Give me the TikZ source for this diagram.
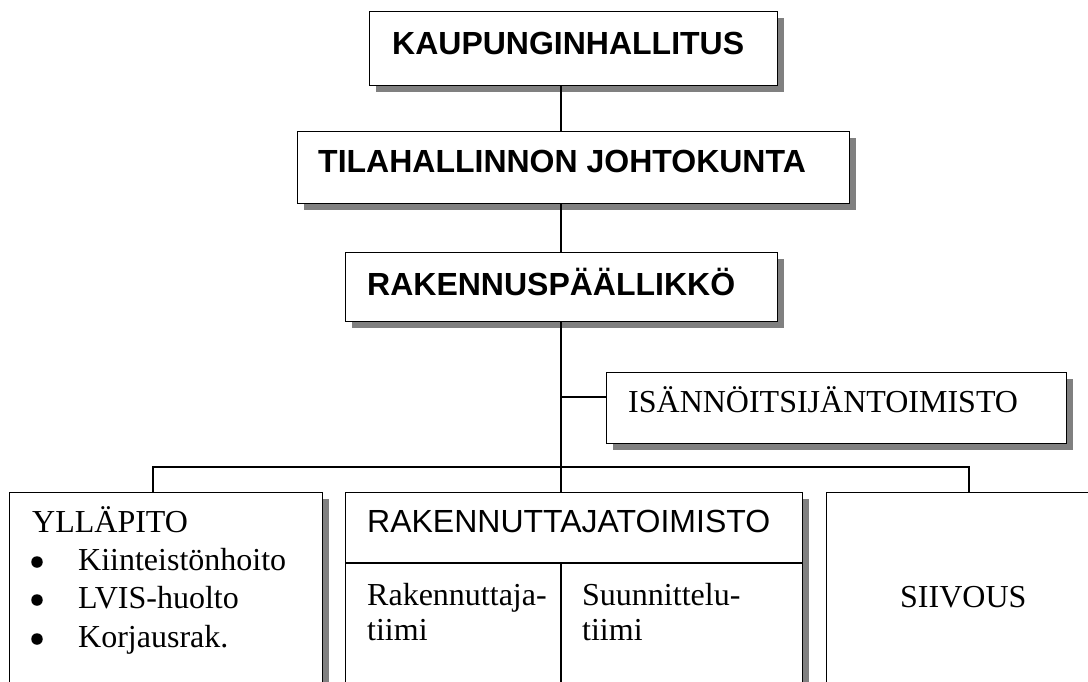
\documentclass[tikz,border=0pt]{standalone}
\usepackage{fontspec}
\setmainfont{Liberation Serif}
\newfontfamily\arialf{Liberation Sans}
\usetikzlibrary{shadows}
\begin{document}
\begin{tikzpicture}[x=1pt,y=-1pt,
  box/.style={draw, line width=1.3pt, fill=white, rectangle, inner sep=0pt, anchor=north west,
    drop shadow={shadow xshift=6pt, shadow yshift=-6pt, fill=black!50, opacity=1}},
  txt/.style={inner sep=0pt, anchor=base west, font=\fontsize{32}{38}\selectfont},
  btxt/.style={txt, font=\arialf\bfseries\fontsize{32}{38}\selectfont},
  stxt/.style={txt, font=\arialf\fontsize{32}{38}\selectfont},
  bul/.style={circle, fill=black, inner sep=0pt, minimum size=11.5pt},
  link/.style={line width=1.3pt}]
\useasboundingbox (0,0) rectangle (1088,682);
\clip (0,0) rectangle (1088,682);
% boxes
\node[box, minimum width=408pt, minimum height=74pt] (kaup) at (369,11) {};
\node[box, minimum width=552pt, minimum height=72pt] (tila) at (297,131) {};
\node[box, minimum width=432pt, minimum height=69pt] (rak) at (345,252) {};
\node[box, minimum width=460pt, minimum height=71pt] (isan) at (606,372) {};
\node[box, minimum width=313pt, minimum height=240pt] (yll) at (9,492) {};
\node[box, minimum width=457pt, minimum height=240pt] (rto) at (345,492) {};
\node[box, minimum width=290pt, minimum height=240pt] (sii) at (826,492) {};
% helper coordinates
\coordinate (spine) at (561,0);
\coordinate (isanjoin) at (561,397);
\coordinate (busL) at (153,467);
\coordinate (busR) at (969,467);
\coordinate (rsplit) at (561,563);
% connectors
\draw[link] (kaup.south -| spine) -- (tila.north -| spine);
\draw[link] (tila.south -| spine) -- (rak.north -| spine);
\draw[link] (rak.south -| spine) -- (rto.north -| spine);
\draw[link] (isanjoin) -- (isanjoin -| isan.west);
\draw[link] (busL |- yll.north) -- (busL) -- (busR) -- (busR |- sii.north);
% divisions inside RAKENNUTTAJATOIMISTO
\draw[link] (rto.west |- rsplit) -- (rto.east |- rsplit);
\draw[link] (rsplit) -- (rsplit |- rto.south);
% texts
\node[btxt] (tkaup) at (392,55) {KAUPUNGINHALLITUS};
\node[btxt] (ttila) at (318,173) {TILAHALLINNON JOHTOKUNTA};
\node[btxt] (trak) at (367,295) {RAKENNUSPÄÄLLIKKÖ};
\node[txt] (tisan) at (628,412) {ISÄNNÖITSIJÄNTOIMISTO};
\node[txt] (tyll) at (32,532) {YLLÄPITO};
\node[bul] (b1) at (37,562) {};
\node[bul] (b2) at (37,600) {};
\node[bul] (b3) at (37,639) {};
\node[txt] (i1) at (78,570) {Kiinteistönhoito};
\node[txt] (i2) at (78,608) {LVIS-huolto};
\node[txt] (i3) at (78,647) {Korjausrak.};
\node[stxt] (trto) at (367,532) {RAKENNUTTAJATOIMISTO};
\node[txt] (r1) at (367,605) {Rakennuttaja-};
\node[txt] (r2) at (367,640) {tiimi};
\node[txt] (s1) at (582,605) {Suunnittelu-};
\node[txt] (s2) at (582,640) {tiimi};
\node[txt] (tsii) at (900,607) {SIIVOUS};
\end{tikzpicture}
\end{document}
